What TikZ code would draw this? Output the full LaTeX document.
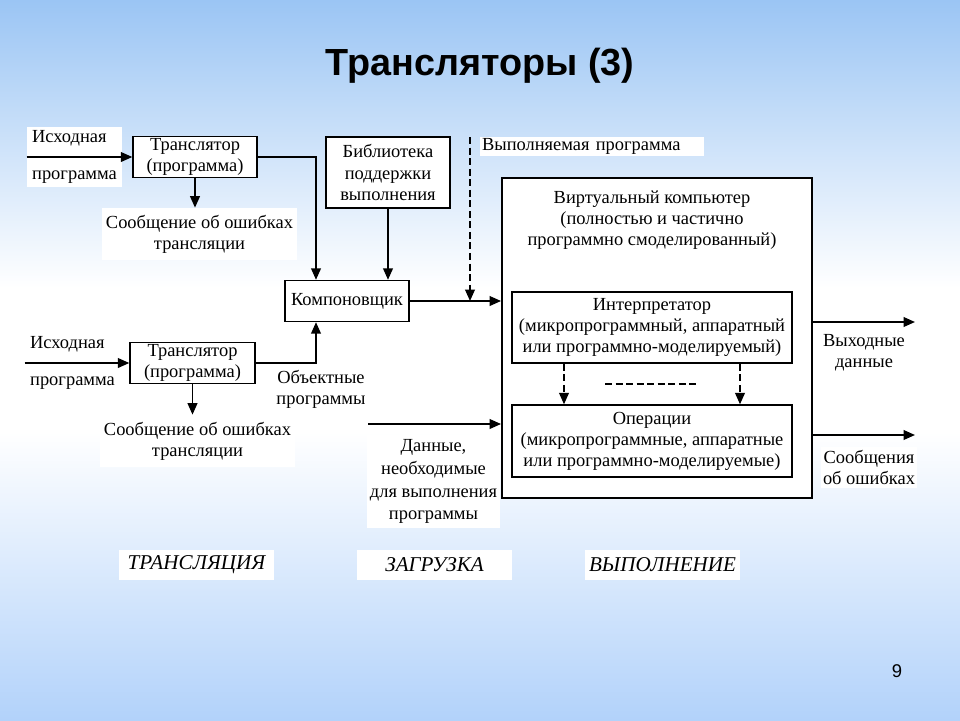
\documentclass[tikz,border=0pt]{standalone}
\usepackage{fontspec}
\setmainfont{Liberation Serif}
\newfontfamily\headfont{Liberation Sans}
\usetikzlibrary{arrows.meta,calc}

\definecolor{bgtop}{RGB}{155,197,244}
\definecolor{bgbot}{RGB}{178,210,250}
\pgfdeclareverticalshading{slidebg}{100bp}{color(0bp)=(bgbot); color(25bp)=(bgbot); color(45bp)=(white); color(55bp)=(white); color(75bp)=(bgtop); color(100bp)=(bgtop)}
\newcommand{\txtfont}{\fontsize{10.5}{12}\selectfont}

\begin{document}
\begin{tikzpicture}[x=0.02cm, y=-0.02cm,
    box/.style={draw, fill=white, line width=0.8pt, inner sep=1pt, align=center, font=\txtfont},
    lbl/.style={fill=white, inner sep=1pt, align=center, font=\txtfont},
    arr/.style={-{Triangle[length=6.5pt,width=5.5pt]}, line width=1pt},
    dashln/.style={dash pattern=on 4pt off 2pt}]
    \shade[shading=slidebg] (0,0) rectangle (960,720);
    \node[font={\headfont\bfseries\fontsize{21.5}{24}\selectfont}] (title) at (480,66) {Трансляторы (3)};

    % translation
    \node[lbl, align=left, minimum width=1.9cm, minimum height=1.22cm] (src1) at (74.5,157) {Исходная\\[9pt]программа};
    \node[box, minimum width=2.48cm, minimum height=0.82cm] (tr1) at (195,157) {Транслятор\\(программа)};
    \node[lbl, minimum width=3.9cm, minimum height=1.04cm] (err1) at (199.5,234) {Сообщение об ошибках\\трансляции};
    \node[box, minimum width=2.48cm, minimum height=1.42cm] (lib) at (388,172.5) {Библиотека\\поддержки\\выполнения};
    \node[box, minimum width=2.48cm, minimum height=0.82cm] (link) at (347,301) {Компоновщик};
    \node[lbl, anchor=west, text width=4.4cm, align=left, minimum height=0.38cm] (exec) at (480,146.5) {Выполняемая программа};
    \coordinate (exectop) at (470,137);

    \node[lbl, align=left, minimum width=1.9cm, minimum height=1.22cm] (src2) at (72.5,363) {Исходная\\[9pt]программа};
    \node[box, minimum width=2.5cm, minimum height=0.8cm] (tr2) at (192.5,363) {Транслятор\\(программа)};
    \node[lbl, minimum width=3.9cm, minimum height=1.04cm] (err2) at (197.5,441) {Сообщение об ошибках\\трансляции};
    \node[lbl, minimum width=1.84cm, minimum height=1.04cm] (obj) at (321,389) {Объектные\\программы};
    \node[lbl, minimum width=2.66cm, minimum height=1.86cm, font={\fontsize{10.5}{13}\selectfont}] (data) at (433.5,481.5) {Данные,\\необходимые\\для выполнения\\программы};
    \coordinate (datain) at (368,424);

    % execution
    \node[draw, fill=white, line width=1.1pt, minimum width=6.2cm, minimum height=6.4cm] (vm) at (657,338) {};
    \node[font=\txtfont, align=center] (vmtitle) at (652,220) {Виртуальный компьютер\\(полностью и частично\\программно смоделированный)};
    \node[box, minimum width=5.6cm, minimum height=1.42cm] (interp) at (652,327.5) {Интерпретатор\\(микропрограммный, аппаратный\\или программно-моделируемый)};
    \node[box, minimum width=5.6cm, minimum height=1.44cm] (oper) at (652,441) {Операции\\(микропрограммные, аппаратные\\или программно-моделируемые)};
    \coordinate (dl) at (605,384);
    \coordinate (dr) at (697,384);
    \coordinate (o1) at (915,322);
    \coordinate (o2) at (915,435);
    \node[lbl, minimum width=1.64cm, minimum height=0.82cm] (out1) at (864,352.5) {Выходные\\данные};
    \node[lbl, minimum width=1.84cm, minimum height=0.82cm] (out2) at (869,467.5) {Сообщения\\об ошибках};

    % stages
    \node[lbl, minimum width=3.1cm, minimum height=0.6cm, font={\fontsize{12}{14}\selectfont\itshape}] (stage1) at (196.5,565) {ТРАНСЛЯЦИЯ};
    \node[lbl, minimum width=3.1cm, minimum height=0.6cm, font={\fontsize{12}{14}\selectfont\itshape}] (stage2) at (434.5,565) {ЗАГРУЗКА};
    \node[lbl, minimum width=3.1cm, minimum height=0.6cm, font={\fontsize{12}{14}\selectfont\itshape}] (stage3) at (662.5,565) {ВЫПОЛНЕНИЕ};
    \node[font={\headfont\fontsize{10.5}{12}\selectfont}] (pagenum) at (897,671) {9};

    \draw[arr] (src1.west) -- (tr1.west);
    \draw[arr] (tr1.south) -- (tr1.south |- err1.north);
    \draw[arr] (tr1.east) -| ($(link.north)+(-31,0)$);
    \draw[arr] (lib.south) -- (link.north -| lib.south);
    \draw[arr] (link.east) -- (link.east -| vm.west);
    \draw[arr, dashln] (exectop) -- (exectop |- link.east);
    \draw[arr] (src2.west) -- (tr2.west);
    \draw[arr] (tr2.south) -- (tr2.south |- err2.north);
    \draw[arr] (tr2.east) -| ($(link.south)+(-31,0)$);
    \draw[arr] (datain) -- (datain -| vm.west);
    \draw[arr, dashln] ($(interp.south)+(-88,0)$) -- ($(oper.north)+(-88,0)$);
    \draw[arr, dashln] ($(interp.south)+(88,0)$) -- ($(oper.north)+(88,0)$);
    \draw[dashln, line width=1pt] (dl) -- (dr);
    \draw[arr] (o1 -| vm.east) -- (o1);
    \draw[arr] (o2 -| vm.east) -- (o2);
\end{tikzpicture}
\end{document}
